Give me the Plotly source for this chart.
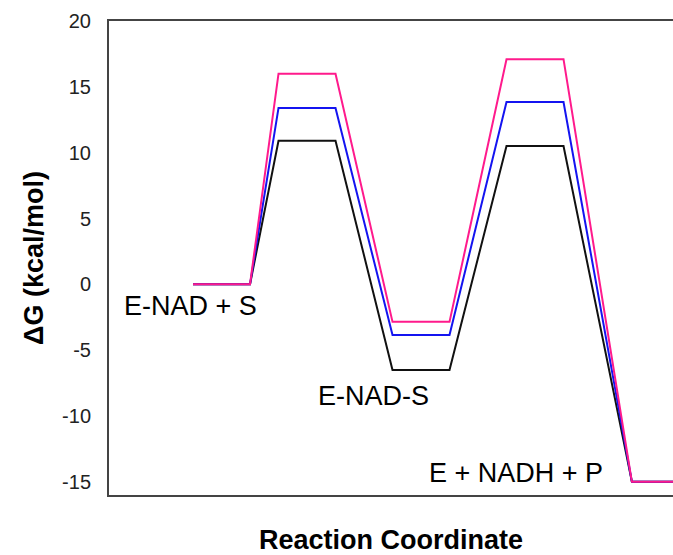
import plotly.graph_objects as go

# Reaction coordinate positions (arbitrary units) for each energy level segment
x_coord = [0, 1, 1.5, 2.5, 3.5, 4.5, 5.5, 6.5, 7.7, 8.6]

# Free energies (kcal/mol) for the three profiles
g_black = [0, 0, 10.9, 10.9, -6.5, -6.5, 10.5, 10.5, -15.0, -15.0]
g_blue = [0, 0, 13.4, 13.4, -3.85, -3.85, 13.85, 13.85, -15.0, -15.0]
g_pink = [0, 0, 16.0, 16.0, -2.85, -2.85, 17.1, 17.1, -15.0, -15.0]

y_ticks = [-15, -10, -5, 0, 5, 10, 15, 20]
y_tick_text = ["-15", "-10", "-5", "0", "5", "10", "15", "20"]

labels = ["E-NAD + S", "E-NAD-S", "E + NADH + P"]
label_x = [-0.05, 3.17, 5.67]
label_y = [-1.65, -8.45, -14.3]

FONT = "Liberation Sans, Arial, sans-serif"

fig = go.Figure()
for ys, col in [(g_black, "#111111"), (g_blue, "#1414F0"), (g_pink, "#FF1A8C")]:
    fig.add_trace(go.Scatter(x=x_coord, y=ys, mode="lines",
                             line=dict(color=col, width=2), showlegend=False,
                             hoverinfo="skip"))

for t, lx, ly in zip(labels, label_x, label_y):
    fig.add_annotation(x=lx, y=ly, text=t, showarrow=False,
                       xanchor="center", yanchor="middle",
                       font=dict(family=FONT, size=27, color="black"))

fig.update_layout(
    width=673, height=555,
    margin=dict(l=109, r=0, t=21, b=60),
    paper_bgcolor="white", plot_bgcolor="white",
    font=dict(family=FONT, color="black"),
    xaxis=dict(range=[-1.474, 8.421], showgrid=False, zeroline=False,
               showline=True, linecolor="#444444", linewidth=2, mirror=True,
               showticklabels=False, ticks="",
               title=dict(text="<b>Reaction Coordinate</b>",
                          font=dict(family=FONT, size=27, color="black"),
                          standoff=34)),
    yaxis=dict(range=[-16, 20], showgrid=False, zeroline=False,
               showline=True, linecolor="#444444", linewidth=2, mirror=False,
               tickvals=y_ticks, ticktext=y_tick_text, ticks="",
               ticklabelstandoff=12,
               tickfont=dict(family=FONT, size=20, color="#222222"),
               title=dict(text="<b>ΔG (kcal/mol)</b>",
                          font=dict(family=FONT, size=27, color="black"),
                          standoff=11)),
)

fig.write_html("out.html")
